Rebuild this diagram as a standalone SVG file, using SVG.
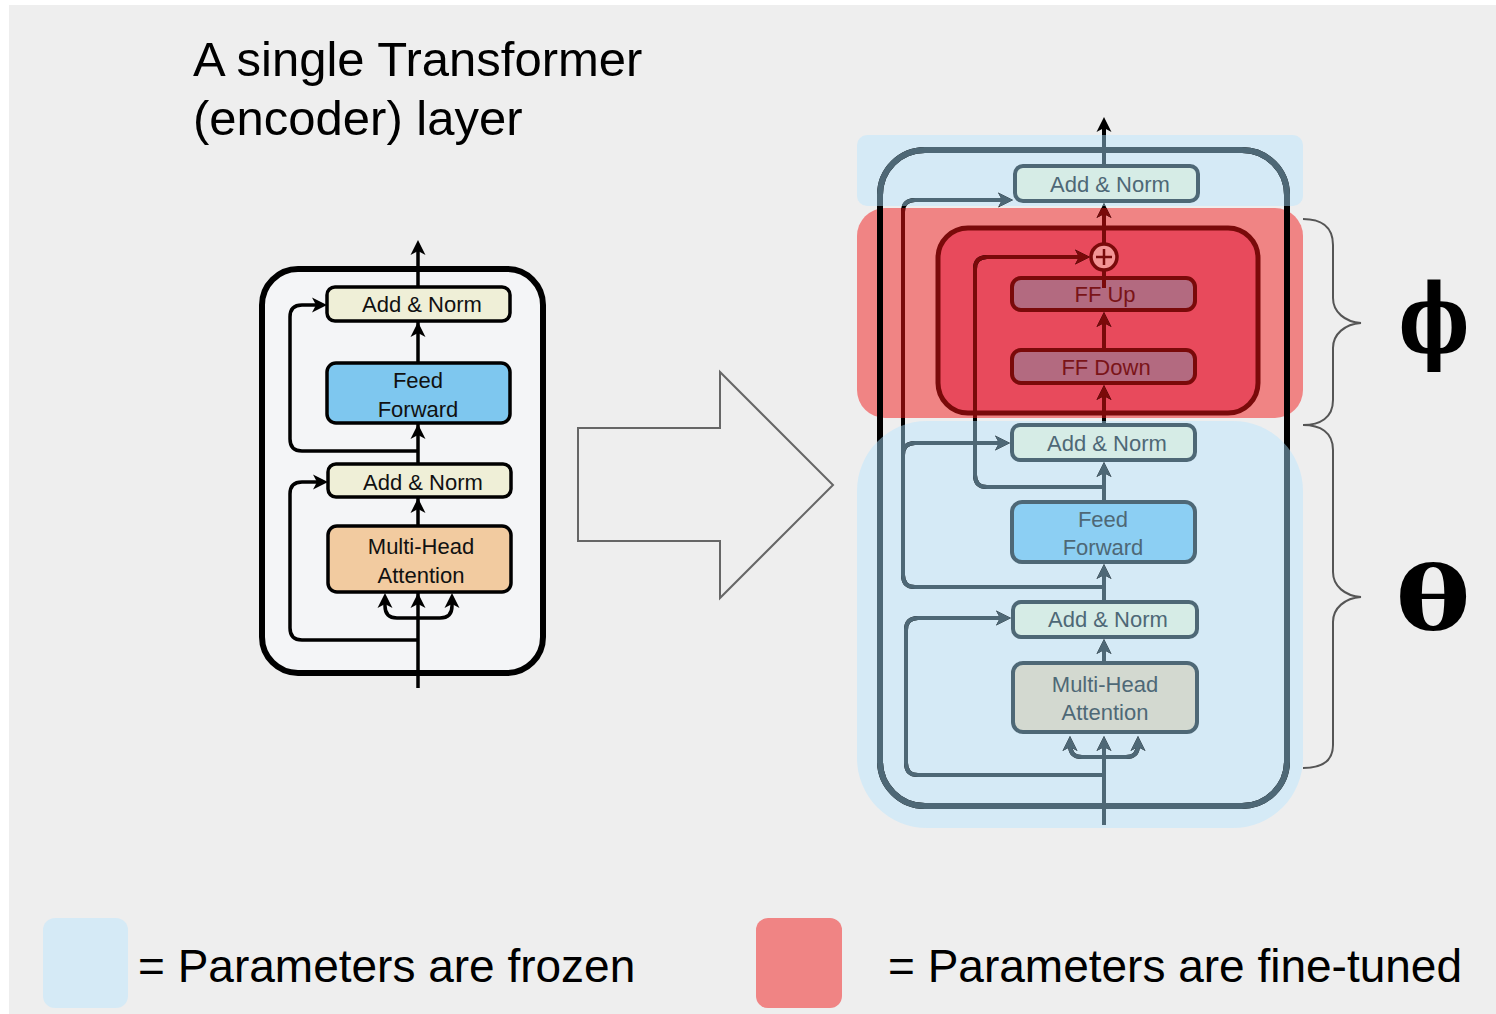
<svg xmlns="http://www.w3.org/2000/svg" xmlns:xlink="http://www.w3.org/1999/xlink" width="1496" height="1014" viewBox="0 0 1496 1014">
  <style>
    .sans { font-family: "Liberation Sans", Arial, sans-serif; }
    .title { font-size: 49px; fill: #000; }
    .legend { font-size: 46px; fill: #000; }
    .lbl { font-size: 22px; text-anchor: middle; fill: #111; }
    .rlbl { font-size: 22px; text-anchor: middle; fill: #4e6876; }
    .redlbl { font-size: 22px; text-anchor: middle; fill: #7a1418; }
    .kbox { stroke: #000; stroke-width: 3.5; }
    .sbox { stroke: #4e6876; stroke-width: 4; }
    .rbox { stroke: #7a0a0a; stroke-width: 4; fill: #b36a80; }
    .kline { stroke: #000; stroke-width: 3.5; fill: none; }
    .wire { stroke: currentColor; stroke-width: 4; fill: none; }
    .head { fill: currentColor; }
    .brace { stroke: #555; stroke-width: 2; fill: none; }
    .greek { font-family: "DejaVu Serif", "Liberation Serif", serif; font-weight: bold; fill: #000; text-anchor: middle; }
  </style>
  <defs>
    <!-- arrowhead pointing up, tip at origin -->
    <path id="ah" d="M0 0 L7.5 15 L0 11 L-7.5 15 Z"/>
    <clipPath id="clipBlue">
      <rect x="857" y="135" width="446" height="71" rx="10"/>
      <rect x="857" y="421" width="446" height="407" rx="70"/>
    </clipPath>
    <clipPath id="clipRed">
      <rect x="857" y="208" width="446" height="210" rx="28"/>
    </clipPath>
    <!-- right-hand layer: outer frame and all wiring, coloured per zone by the uses below -->
    <g id="rframe">
      <rect x="880" y="150" width="407" height="656" rx="45" fill="none" stroke="currentColor" stroke-width="6"/>
    </g>
    <g id="rwires">
      <!-- trunk -->
      <path class="wire" d="M1104 825 V740"/>
      <path class="wire" d="M1104 757 H1082 Q1070 757 1070 745 V742"/>
      <path class="wire" d="M1104 757 H1126 Q1138 757 1138 745 V742"/>
      <use href="#ah" class="head" transform="translate(1070 736)"/>
      <use href="#ah" class="head" transform="translate(1104 736)"/>
      <use href="#ah" class="head" transform="translate(1138 736)"/>
      <path class="wire" d="M1104 663 V645"/>
      <use href="#ah" class="head" transform="translate(1104 639)"/>
      <path class="wire" d="M1104 602 V570"/>
      <use href="#ah" class="head" transform="translate(1104 564)"/>
      <path class="wire" d="M1104 502 V468"/>
      <use href="#ah" class="head" transform="translate(1104 462)"/>
      <path class="wire" d="M1104 425 V391"/>
      <use href="#ah" class="head" transform="translate(1104 385)"/>
      <path class="wire" d="M1104 350 V318"/>
      <use href="#ah" class="head" transform="translate(1104 312)"/>
      <path class="wire" d="M1104 244 V210"/>
      <use href="#ah" class="head" transform="translate(1104 203)"/>
      <path class="wire" d="M1104 166 V126"/>
      <use href="#ah" class="head" transform="translate(1104 117)"/>
      <!-- skip connections -->
      <path class="wire" d="M1104 775 H918 Q906 775 906 763 V630 Q906 618 918 618 H1003"/>
      <use href="#ah" class="head" transform="translate(1011 618) rotate(90)"/>
      <path class="wire" d="M1104 587 H915 Q903 587 903 575 V212 Q903 200 915 200 H1005"/>
      <use href="#ah" class="head" transform="translate(1013 200) rotate(90)"/>
      <path class="wire" d="M903 455 Q903 443 915 443 H1002"/>
      <use href="#ah" class="head" transform="translate(1010 443) rotate(90)"/>
      <path class="wire" d="M1104 487 H987 Q975 487 975 475 V269 Q975 257 987 257 H1082"/>
      <use href="#ah" class="head" transform="translate(1090 257) rotate(90)"/>
    </g>
  </defs>

  <!-- canvas -->
  <rect x="0" y="0" width="1496" height="1014" fill="#ffffff"/>
  <rect x="9" y="5" width="1487" height="1009" fill="#eeeeee"/>

  <!-- heading -->
  <text class="sans title" x="193" y="76">A single Transformer</text>
  <text class="sans title" x="193" y="135">(encoder) layer</text>

  <!-- ===== left: plain encoder layer ===== -->
  <g id="left-layer">
    <rect x="262" y="269" width="281" height="404" rx="36" fill="#f4f5f7" stroke="#000" stroke-width="6"/>
  </g>
  <g id="left-connectors">
    <path class="kline" d="M418 688 V250"/>
    <path d="M418 240 L425.5 255 L418 251 L410.5 255 Z"/>
    <path class="kline" d="M418 451 H302 Q290 451 290 439 V317 Q290 305 302 305 H318"/>
    <path d="M327 305 L312 312.5 L316 305 L312 297.5 Z"/>
    <path class="kline" d="M418 640 H302 Q290 640 290 628 V494 Q290 482 302 482 H318"/>
    <path d="M328 482 L313 489.5 L317 482 L313 474.5 Z"/>
    <path class="kline" d="M418 618 H397 Q385 618 385 606 V602"/>
    <path class="kline" d="M418 618 H440 Q452 618 452 606 V602"/>
    <path d="M385 593 L392.5 608 L385 604 L377.5 608 Z"/>
    <path d="M418 593 L425.5 608 L418 604 L410.5 608 Z"/>
    <path d="M452 593 L459.5 608 L452 604 L444.5 608 Z"/>
    <path d="M418 322 L425.5 337 L418 333 L410.5 337 Z"/>
    <path d="M418 424 L425.5 439 L418 435 L410.5 439 Z"/>
    <path d="M418 498 L425.5 513 L418 509 L410.5 513 Z"/>
  </g>
  <g id="left-add-norm-2">
    <rect class="kbox" x="327" y="287" width="183" height="34" rx="8" fill="#efefd7"/>
    <text class="sans lbl" x="422" y="312">Add &amp; Norm</text>
  </g>
  <g id="left-feed-forward">
    <rect class="kbox" x="327" y="363" width="183" height="60" rx="9" fill="#7ec7ef"/>
    <text class="sans lbl" x="418" y="388">Feed</text>
    <text class="sans lbl" x="418" y="417">Forward</text>
  </g>
  <g id="left-add-norm-1">
    <rect class="kbox" x="328" y="464" width="183" height="33" rx="8" fill="#efefd7"/>
    <text class="sans lbl" x="423" y="490">Add &amp; Norm</text>
  </g>
  <g id="left-attention">
    <rect class="kbox" x="328" y="526" width="183" height="66" rx="9" fill="#f2cba0"/>
    <text class="sans lbl" x="421" y="554">Multi-Head</text>
    <text class="sans lbl" x="421" y="583">Attention</text>
  </g>

  <!-- big transition arrow -->
  <g id="transition-arrow">
    <path d="M578 428 H720 V372 L833 485 L720 598 V541 H578 Z" fill="none" stroke="#666" stroke-width="2"/>
  </g>

  <!-- ===== right: layer with adapter ===== -->
  <g id="zones">
    <rect x="857" y="135" width="446" height="71" rx="10" fill="#d5eaf6"/>
    <rect x="857" y="421" width="446" height="407" rx="70" fill="#d5eaf6"/>
    <rect x="857" y="208" width="446" height="210" rx="28" fill="#f08484"/>
  </g>
  <g id="layer-frame">
    <use href="#rframe" style="color:#000"/>
    <use href="#rframe" clip-path="url(#clipBlue)" style="color:#4e6876"/>
  </g>
  <g id="adapter">
    <rect x="938" y="228" width="320" height="185" rx="30" fill="#e84a5c" stroke="#7a0a0a" stroke-width="5"/>
  </g>
  <g id="connectors">
    <use href="#rwires" style="color:#000"/>
    <use href="#rwires" clip-path="url(#clipBlue)" style="color:#4e6876"/>
    <use href="#rwires" clip-path="url(#clipRed)" style="color:#7a0a0a"/>
  </g>
  <g id="add-norm-3">
    <rect class="sbox" x="1015" y="166" width="183" height="35" rx="8" fill="#d6ece6"/>
    <text class="sans rlbl" x="1110" y="192">Add &amp; Norm</text>
  </g>
  <g id="ff-up">
    <rect class="rbox" x="1012" y="278" width="183" height="32" rx="9"/>
    <text class="sans redlbl" x="1105" y="302">FF Up</text>
    <path d="M1104 270 V288" stroke="#7a0a0a" stroke-width="4"/>
  </g>
  <g id="ff-down">
    <rect class="rbox" x="1012" y="350" width="183" height="33" rx="9"/>
    <text class="sans redlbl" x="1106" y="375">FF Down</text>
  </g>
  <g id="sum">
    <circle cx="1104" cy="257" r="13" fill="#f39494" stroke="#7a0a0a" stroke-width="3.5"/>
    <path d="M1104 249 V265 M1096 257 H1112" stroke="#7a0a0a" stroke-width="2.5"/>
  </g>
  <g id="add-norm-2">
    <rect class="sbox" x="1012" y="425" width="183" height="35" rx="8" fill="#d6ece6"/>
    <text class="sans rlbl" x="1107" y="451">Add &amp; Norm</text>
  </g>
  <g id="feed-forward">
    <rect class="sbox" x="1012" y="502" width="183" height="60" rx="10" fill="#8ccff3"/>
    <text class="sans rlbl" x="1103" y="527">Feed</text>
    <text class="sans rlbl" x="1103" y="555">Forward</text>
  </g>
  <g id="add-norm-1">
    <rect class="sbox" x="1013" y="602" width="184" height="35" rx="8" fill="#d6ece6"/>
    <text class="sans rlbl" x="1108" y="627">Add &amp; Norm</text>
  </g>
  <g id="attention">
    <rect class="sbox" x="1013" y="663" width="184" height="69" rx="10" fill="#d3d9d0"/>
    <text class="sans rlbl" x="1105" y="692">Multi-Head</text>
    <text class="sans rlbl" x="1105" y="720">Attention</text>
  </g>

  <!-- parameter groups -->
  <g id="braces">
    <path class="brace" d="M1303 219 C1320 219 1333 226 1333 245 V298 C1333 312 1345 322 1361 323 C1345 324 1333 334 1333 348 V400 C1333 418 1320 425 1303 425"/>
    <path class="brace" d="M1303 425 C1320 425 1333 432 1333 450 V572 C1333 586 1345 596 1361 597 C1345 598 1333 608 1333 622 V745 C1333 762 1320 768 1303 768"/>
  </g>
  <text class="greek" transform="translate(1434 352) scale(0.78 1)" x="0" y="0" font-size="96">ϕ</text>
  <text class="greek" transform="translate(1433 630) scale(1.28 1)" x="0" y="0" font-size="88">θ</text>

  <!-- legend -->
  <g id="legend">
    <rect x="43" y="918" width="85" height="90" rx="12" fill="#d5eaf6"/>
    <text class="sans legend" x="138" y="982">= Parameters are frozen</text>
    <rect x="756" y="918" width="86" height="90" rx="12" fill="#f08484"/>
    <text class="sans legend" x="888" y="982">= Parameters are fine-tuned</text>
  </g>
</svg>
